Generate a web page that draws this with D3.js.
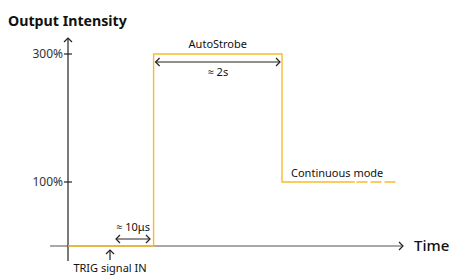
<!DOCTYPE html>
<html>
<head>
<meta charset="utf-8">
<script src="https://cdn.jsdelivr.net/npm/d3@7"></script>
<style>
  body { margin: 0; background: #fff; }
  text { font-family: "Noto Sans", "Open Sans", sans-serif; fill: #111; }
</style>
</head>
<body>
<div id="chart"></div>
<script>
// data
const pulseTime = [0, 1, 1, 2.5, 2.5, 3.35]
const pulseLevel = [0, 0, 300, 300, 100, 100]
const tailTime = [3.37, 3.83]
const tailLevel = [100, 100]
const yTicks = [100, 300]
const yTickLabels = ["100%", "300%"]

const width = 450
const height = 275

const svg = d3.select('#chart').append('svg')
  .attr("width", width)
  .attr("height", height)

const x = d3.scaleLinear().domain([0, 2.5]).range([68, 282])
const y = d3.scaleLinear().domain([0, 300]).range([246, 54])

const signalColor = "#f7bb2c"
const axisColor = "#222"

// small open arrowhead
function chevron(px, py, dir) {
  const s = 4
  let d
  if (dir == "right") d = `M${px - s},${py - s} L${px},${py} L${px - s},${py + s}`
  if (dir == "left") d = `M${px + s},${py - s} L${px},${py} L${px + s},${py + s}`
  if (dir == "up") d = `M${px - s},${py + s} L${px},${py} L${px + s},${py + s}`
  svg.append("path").attr("d", d).attr("fill", "none")
    .attr("stroke", axisColor).attr("stroke-width", 1.2)
}

// axes
svg.append("line")
  .attr("x1", 50).attr("x2", 403)
  .attr("y1", y(0)).attr("y2", y(0))
  .attr("stroke", "#555").attr("stroke-width", 1.2)
chevron(403, y(0), "right")

svg.append("line")
  .attr("x1", x(0)).attr("x2", x(0))
  .attr("y1", 38).attr("y2", 261)
  .attr("stroke", axisColor).attr("stroke-width", 1.2)
chevron(x(0), 38, "up")

const ticks = svg.append("g")
ticks.selectAll("line")
  .data(yTicks)
  .enter()
  .append("line")
  .attr("x1", x(0) - 4).attr("x2", x(0) + 4)
  .attr("y1", d => y(d)).attr("y2", d => y(d))
  .attr("stroke", axisColor).attr("stroke-width", 1.2)
ticks.selectAll("text")
  .data(yTicks)
  .enter()
  .append("text")
  .attr("x", x(0) - 5)
  .attr("y", d => y(d) + 4)
  .attr("text-anchor", "end")
  .attr("font-size", 12)
  .style("fill", "#333")
  .text((d, i) => yTickLabels[i])

// signal
const line = d3.line().x(d => x(d[0])).y(d => y(d[1]))

svg.append("path")
  .datum(pulseTime.map((t, i) => [t, pulseLevel[i]]))
  .attr("d", line)
  .attr("fill", "none")
  .attr("stroke", signalColor)
  .attr("stroke-width", 1.4)

svg.append("path")
  .datum(tailTime.map((t, i) => [t, tailLevel[i]]))
  .attr("d", line)
  .attr("fill", "none")
  .attr("stroke", signalColor)
  .attr("stroke-width", 1.4)
  .attr("stroke-dasharray", "11,3")

// titles
svg.append("text")
  .attr("x", 8).attr("y", 26)
  .attr("font-size", 14.2)
  .attr("font-weight", "bold")
  .text("Output Intensity")

svg.append("text")
  .attr("x", 414).attr("y", 251)
  .attr("font-size", 15)
  .attr("font-weight", 500)
  .text("Time")

// annotations
svg.append("text")
  .attr("x", (x(1) + x(2.5)) / 2).attr("y", 48)
  .attr("text-anchor", "middle")
  .attr("font-size", 11)
  .text("AutoStrobe")

svg.append("line")
  .attr("x1", x(1) + 2).attr("x2", x(2.5) - 2)
  .attr("y1", 62).attr("y2", 62)
  .attr("stroke", axisColor).attr("stroke-width", 1.2)
chevron(x(1) + 2, 62, "left")
chevron(x(2.5) - 2, 62, "right")

svg.append("text")
  .attr("x", (x(1) + x(2.5)) / 2).attr("y", 76)
  .attr("text-anchor", "middle")
  .attr("font-size", 11)
  .text("≈ 2s")

svg.append("text")
  .attr("x", 291).attr("y", 177)
  .attr("font-size", 11)
  .text("Continuous mode")

svg.append("line")
  .attr("x1", 116).attr("x2", 150)
  .attr("y1", 239).attr("y2", 239)
  .attr("stroke", axisColor).attr("stroke-width", 1.2)
chevron(116, 239, "left")
chevron(150, 239, "right")

svg.append("text")
  .attr("x", 133).attr("y", 231)
  .attr("text-anchor", "middle")
  .attr("font-size", 11)
  .text("≈ 10μs")

svg.append("line")
  .attr("x1", 110).attr("x2", 110)
  .attr("y1", 250).attr("y2", 260)
  .attr("stroke", axisColor).attr("stroke-width", 1.2)
chevron(110, 250, "up")

svg.append("text")
  .attr("x", 110).attr("y", 272)
  .attr("text-anchor", "middle")
  .attr("font-size", 11)
  .text("TRIG signal IN")
</script>
</body>
</html>
